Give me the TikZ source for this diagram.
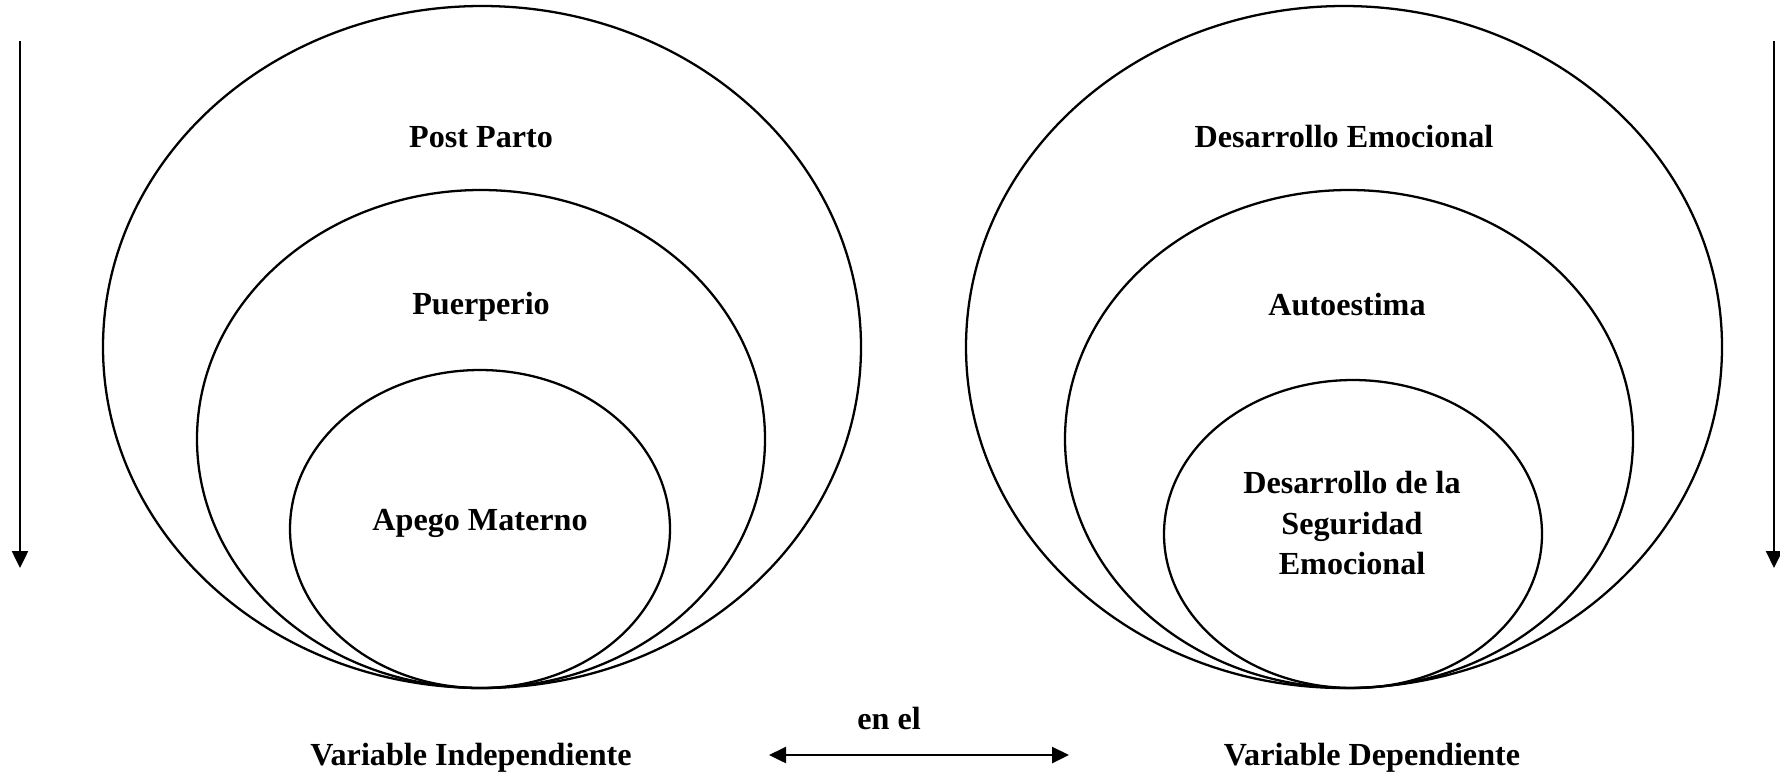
\documentclass[tikz,border=0pt]{standalone}
\usepackage{fontspec}
\setmainfont{Liberation Serif}
\usetikzlibrary{arrows.meta}

\tikzset{
  lbl/.style = {font=\fontsize{18.3}{23}\selectfont\bfseries, align=center, inner sep=0pt},
  tip/.style = {line width=1.4pt, arrows={-Triangle[length=0.34cm, width=0.32cm]}},
  twotip/.style = {line width=1.4pt, arrows={Triangle[length=0.34cm, width=0.32cm]-Triangle[length=0.34cm, width=0.32cm]}}
}

\begin{document}
\begin{tikzpicture}[x = 0.02cm, y = -0.02cm]
\useasboundingbox (0, 0) rectangle (1780, 779);
% nested ellipses, both sides
\foreach \cx/\cy/\rx/\ry in {482/347/379/341,
                             481/439/284/249,
                             480/529/190/159,
                             1344/347/378/341,
                             1349/439/284/249,
                             1353/534/189/154}
    \draw[line width = 1.3pt] (\cx, \cy) ellipse[x radius = \rx, y radius = \ry];
\node[lbl] (post) at (481, 137) {Post Parto};
\node[lbl] (puer) at (481, 307) {Puerperio};
\node[lbl] (apego) at (480, 523) {Apego Materno};
\node[lbl] (desem) at (1344, 136) {Desarrollo Emocional};
\node[lbl] (auto) at (1347, 305) {Autoestima};
\node[lbl] (segur) at (1352, 523) {Desarrollo de la\\Seguridad\\Emocional};
\node[lbl] (vind) at (471, 758) {Variable Independiente};
\node[lbl] (vdep) at (1372, 758) {Variable Dependiente};
\node[lbl] (enel) at (889, 718) {en el};
% arrows
\coordinate (ltop) at (20, 41);
\coordinate (lbot) at (20, 568);
\coordinate (rtop) at (1774, 41);
\coordinate (rbot) at (1774, 568);
\coordinate (ml) at (769, 755);
\coordinate (mr) at (1069, 755);
\draw[tip] (ltop) -- (lbot);
\draw[tip] (rtop) -- (rbot);
\draw[twotip] (ml) -- (mr);
\end{tikzpicture}
\end{document}
